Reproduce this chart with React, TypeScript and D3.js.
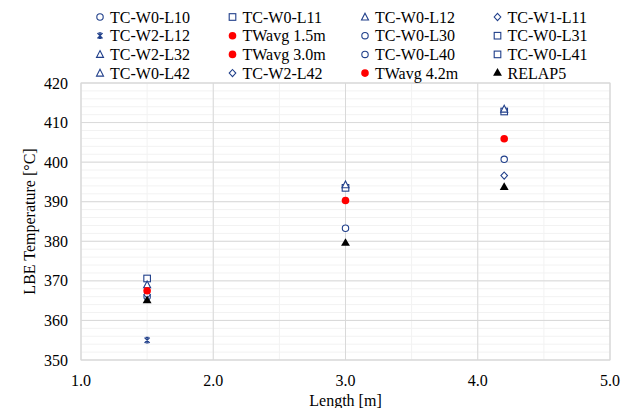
import React from 'react';
import * as d3 from 'd3';

// values (x = length [m], y = LBE temperature [°C])
const tcW0L10 = [[1.5, 366.0]];
const tcW0L11 = [[1.5, 370.6]];
const tcW0L12 = [[1.5, 369.0]];
const tcW1L11 = [[1.5, 366.5]];
const tcW2L12 = [[1.5, 355.0]];
const twavg15 = [[1.5, 367.5]];
const tcW0L30 = [[3.0, 383.3]];
const tcW0L31 = [[3.0, 393.5]];
const tcW2L32 = [[3.0, 394.3]];
const twavg30 = [[3.0, 390.3]];
const tcW0L40 = [[4.2, 400.7]];
const tcW0L41 = [[4.2, 412.8]];
const tcW0L42 = [[4.2, 413.4]];
const tcW2L42 = [[4.2, 396.6]];
const twavg42 = [[4.2, 405.9]];
const relap5 = [[1.5, 365.0], [3.0, 379.5], [4.2, 393.6]];

const xTicks = [1.0, 2.0, 3.0, 4.0, 5.0];
const yTicks = [350, 360, 370, 380, 390, 400, 410, 420];

const BLUE = '#203f8a';

const series = [
  { name: 'TC-W0-L10', data: tcW0L10, mark: 'circle' },
  { name: 'TC-W0-L11', data: tcW0L11, mark: 'square' },
  { name: 'TC-W0-L12', data: tcW0L12, mark: 'triangle' },
  { name: 'TC-W1-L11', data: tcW1L11, mark: 'diamond' },
  { name: 'TC-W2-L12', data: tcW2L12, mark: 'star' },
  { name: 'TWavg 1.5m', data: twavg15, mark: 'dot' },
  { name: 'TC-W0-L30', data: tcW0L30, mark: 'circle' },
  { name: 'TC-W0-L31', data: tcW0L31, mark: 'square' },
  { name: 'TC-W2-L32', data: tcW2L32, mark: 'triangle' },
  { name: 'TWavg 3.0m', data: twavg30, mark: 'dot' },
  { name: 'TC-W0-L40', data: tcW0L40, mark: 'circle' },
  { name: 'TC-W0-L41', data: tcW0L41, mark: 'square' },
  { name: 'TC-W0-L42', data: tcW0L42, mark: 'triangle' },
  { name: 'TC-W2-L42', data: tcW2L42, mark: 'diamond' },
  { name: 'TWavg 4.2m', data: twavg42, mark: 'dot' },
  { name: 'RELAP5', data: relap5, mark: 'relap' },
];

function Marker({ kind, x, y }: { kind: string; x: number; y: number }) {
  const t = `translate(${x},${y})`;
  if (kind === 'circle')
    return <circle cx={x} cy={y} r={3.2} fill="#fff" stroke={BLUE} strokeWidth={1.1} />;
  if (kind === 'square')
    return <rect x={x - 3.3} y={y - 3.3} width={6.6} height={6.6} fill="#fff" stroke={BLUE} strokeWidth={1.1} />;
  if (kind === 'triangle')
    return <path transform={t} d="M0,-3.8L3.5,3L-3.5,3Z" fill="#fff" stroke={BLUE} strokeWidth={1.1} />;
  if (kind === 'diamond')
    return <path transform={t} d="M0,-3.6L3.3,0L0,3.6L-3.3,0Z" fill="#fff" stroke={BLUE} strokeWidth={1.1} />;
  if (kind === 'star')
    return <path transform={t} d="M-2.6,-2.6L2.6,2.6M2.6,-2.6L-2.6,2.6M0,-3L0,3M-1.5,-2.8L1.5,-2.8M-1.5,2.8L1.5,2.8" fill="none" stroke={BLUE} strokeWidth={1.2} />;
  if (kind === 'dot')
    return <circle cx={x} cy={y} r={3.8} fill="#ff0000" />;
  return <path transform={t} d={d3.symbol(d3.symbolTriangle, 34)() || ''} fill="#000" />;
}

export default function App() {
  const W = 630;
  const H = 408;
  const left = 81, right = 610, top = 83, bottom = 360;

  const x = d3.scaleLinear().domain([1, 5]).range([left, right]);
  const y = d3.scaleLinear().domain([350, 420]).range([bottom, top]);

  const xMinor = d3.range(1, 5.01, 0.5);
  const yMinor = d3.range(350, 420.01, 2);

  const font = '"Liberation Serif", "Times New Roman", serif';

  return (
    <svg width={W} height={H} style={{ position: 'absolute', left: 0, top: 0, background: '#fff' }} fontFamily={font}>
      <rect x={0} y={0} width={W} height={H} fill="#fff" />
      {/* minor grid */}
      {yMinor.map(v => (
        <line key={'ym' + v} x1={left} x2={right} y1={y(v)} y2={y(v)} stroke="#f2f2f2" />
      ))}
      {xMinor.map(v => (
        <line key={'xm' + v} x1={x(v)} x2={x(v)} y1={top} y2={bottom} stroke="#f2f2f2" />
      ))}
      {/* major grid */}
      {yTicks.map(v => (
        <line key={'yM' + v} x1={left} x2={right} y1={y(v)} y2={y(v)} stroke="#d9d9d9" />
      ))}
      {xTicks.map(v => (
        <line key={'xM' + v} x1={x(v)} x2={x(v)} y1={top} y2={bottom} stroke="#d9d9d9" />
      ))}
      <rect x={left} y={top} width={right - left} height={bottom - top} fill="none" stroke="#d9d9d9" />

      {/* tick labels */}
      {yTicks.map(v => (
        <text key={'yl' + v} x={left - 13} y={y(v)} dy="0.35em" textAnchor="end" fontSize={16} fill="#000">
          {v}
        </text>
      ))}
      {xTicks.map(v => (
        <text key={'xl' + v} x={x(v)} y={bottom + 26} textAnchor="middle" fontSize={16} fill="#000">
          {d3.format('.1f')(v)}
        </text>
      ))}
      <text x={(left + right) / 2} y={406} textAnchor="middle" fontSize={16} fill="#000">
        Length [m]
      </text>
      <text transform={`translate(35,${(top + bottom) / 2}) rotate(-90)`} textAnchor="middle" fontSize={16} fill="#000">
        LBE Temperature [°C]
      </text>

      {/* points */}
      {series.map(s =>
        s.data.map((d, i) => <Marker key={s.name + i} kind={s.mark} x={x(d[0])} y={y(d[1])} />)
      )}

      {/* legend */}
      {series.map((s, i) => {
        const col = i % 4;
        const row = Math.floor(i / 4);
        const lx = 100 + col * 132.5;
        const ly = 17 + row * 18.7;
        return (
          <g key={'lg' + s.name}>
            <Marker kind={s.mark} x={lx} y={ly} />
            <text x={lx + 10} y={ly} dy="0.35em" fontSize={16} fill="#000">
              {s.name}
            </text>
          </g>
        );
      })}
    </svg>
  );
}
